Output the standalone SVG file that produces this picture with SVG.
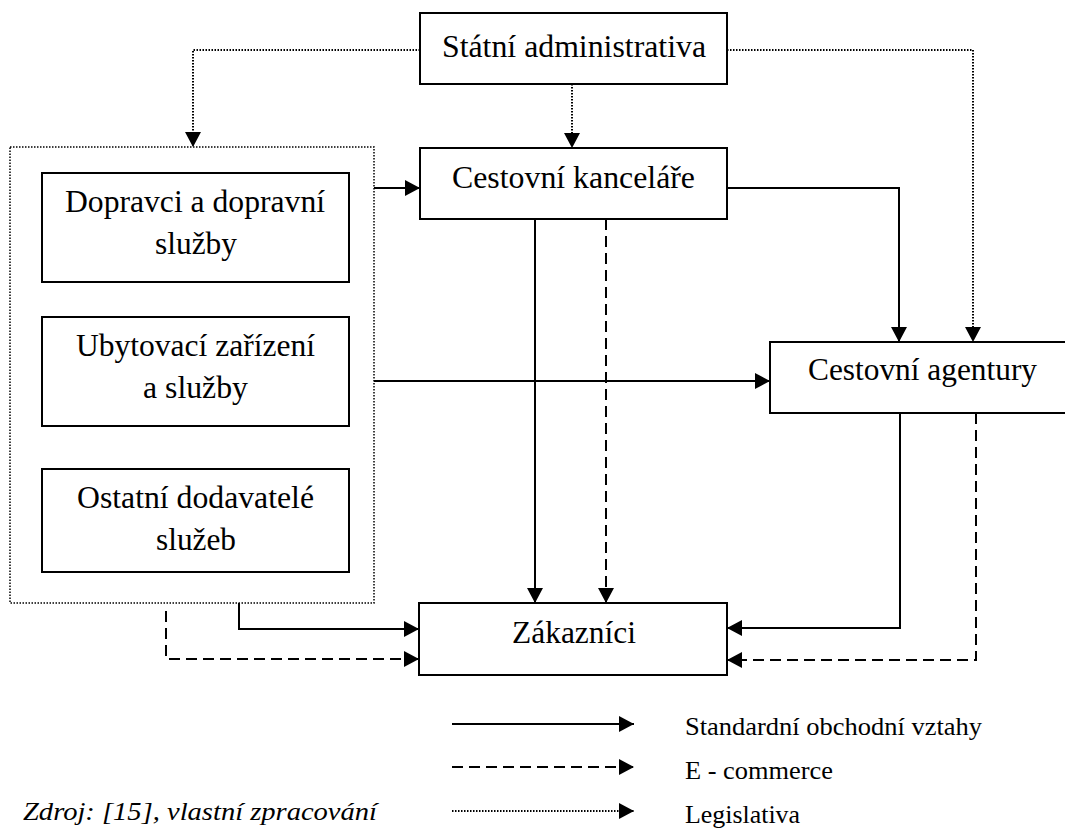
<svg xmlns="http://www.w3.org/2000/svg" width="1065" height="832" viewBox="0 0 1065 832">
<style>
  text { font-family: 'Liberation Serif', 'DejaVu Serif', 'Noto Serif', serif; fill: #000; }
  .box { fill: #fff; stroke: #000; stroke-width: 2; }
  .t { font-size: 31px; text-anchor: middle; }
  .lg { font-size: 26px; }
  .src { font-size: 26px; font-style: italic; }
  .solid { fill: none; stroke: #000; stroke-width: 2; marker-end: url(#ah); }
  .dash { fill: none; stroke: #000; stroke-width: 2; stroke-dasharray: 11 6; marker-end: url(#ah); }
  .dot { fill: none; stroke: #000; stroke-width: 2; stroke-dasharray: 1.5 1.5; marker-end: url(#ah); }
</style>
<defs>
  <marker id="ah" markerUnits="userSpaceOnUse" markerWidth="16" markerHeight="16" refX="15" refY="8" orient="auto">
    <path d="M0,0 L15,8 L0,16 z" fill="#000"/>
  </marker>
</defs>
<rect width="1065" height="832" fill="#fff"/>

<g id="suppliers-group">
  <rect x="10" y="147" width="364" height="456" fill="none" stroke="#000" stroke-width="1.5" stroke-dasharray="1.5 1.5"/>
</g>

<g id="connectors">
  <path class="dot" d="M420,50 H193 V147"/>
  <path class="dot" d="M572,84 V148"/>
  <path class="dot" d="M727,50 H973 V342"/>
  <path class="solid" d="M374,188 H420"/>
  <path class="solid" d="M727,188 H899 V342"/>
  <path class="solid" d="M374,381 H770"/>
  <path class="solid" d="M535,219 V603"/>
  <path class="dash" d="M606,219 V603"/>
  <path class="solid" d="M900,413 V628 H727"/>
  <path class="dash" d="M976,413 V660 H727"/>
  <path class="solid" d="M239,603 V629 H419"/>
  <path class="dash" d="M166,611 V659 H419"/>
</g>

<g id="statni">
  <rect class="box" x="420" y="13" width="307" height="71"/>
  <text class="t" x="574" y="57" textLength="264" lengthAdjust="spacingAndGlyphs">Státní administrativa</text>
</g>
<g id="kancelare">
  <rect class="box" x="420" y="148" width="307" height="71"/>
  <text class="t" x="573.5" y="188" textLength="243" lengthAdjust="spacingAndGlyphs">Cestovní kanceláře</text>
</g>
<g id="agentury">
  <rect class="box" x="770" y="342" width="310" height="71"/>
  <text class="t" x="922.5" y="380" textLength="229" lengthAdjust="spacingAndGlyphs">Cestovní agentury</text>
</g>
<g id="zakaznici">
  <rect class="box" x="419" y="603" width="308" height="72"/>
  <text class="t" x="574" y="643" textLength="124" lengthAdjust="spacingAndGlyphs">Zákazníci</text>
</g>
<g id="dopravci">
  <rect class="box" x="42" y="173" width="307" height="109"/>
  <text class="t" x="195" y="212" textLength="260" lengthAdjust="spacingAndGlyphs">Dopravci a dopravní</text>
  <text class="t" x="196" y="254" textLength="82" lengthAdjust="spacingAndGlyphs">služby</text>
</g>
<g id="ubytovaci">
  <rect class="box" x="42" y="317" width="307" height="109"/>
  <text class="t" x="195.5" y="356" textLength="239" lengthAdjust="spacingAndGlyphs">Ubytovací zařízení</text>
  <text class="t" x="195.5" y="398" textLength="105" lengthAdjust="spacingAndGlyphs">a služby</text>
</g>
<g id="ostatni">
  <rect class="box" x="42" y="469" width="307" height="103"/>
  <text class="t" x="195.5" y="508" textLength="237" lengthAdjust="spacingAndGlyphs">Ostatní dodavatelé</text>
  <text class="t" x="196" y="550" textLength="80" lengthAdjust="spacingAndGlyphs">služeb</text>
</g>

<g id="legend">
  <path class="solid" d="M452,724 H634"/>
  <path class="dash" d="M452,767 H634"/>
  <path class="dot" d="M452,811 H634"/>
  <text class="lg" x="685" y="735" textLength="297" lengthAdjust="spacingAndGlyphs">Standardní obchodní vztahy</text>
  <text class="lg" x="685" y="779" textLength="148" lengthAdjust="spacingAndGlyphs">E - commerce</text>
  <text class="lg" x="685" y="823" textLength="115" lengthAdjust="spacingAndGlyphs">Legislativa</text>
</g>
<text class="src" x="23" y="820" textLength="354" lengthAdjust="spacingAndGlyphs">Zdroj: [15], vlastní zpracování</text>
</svg>
